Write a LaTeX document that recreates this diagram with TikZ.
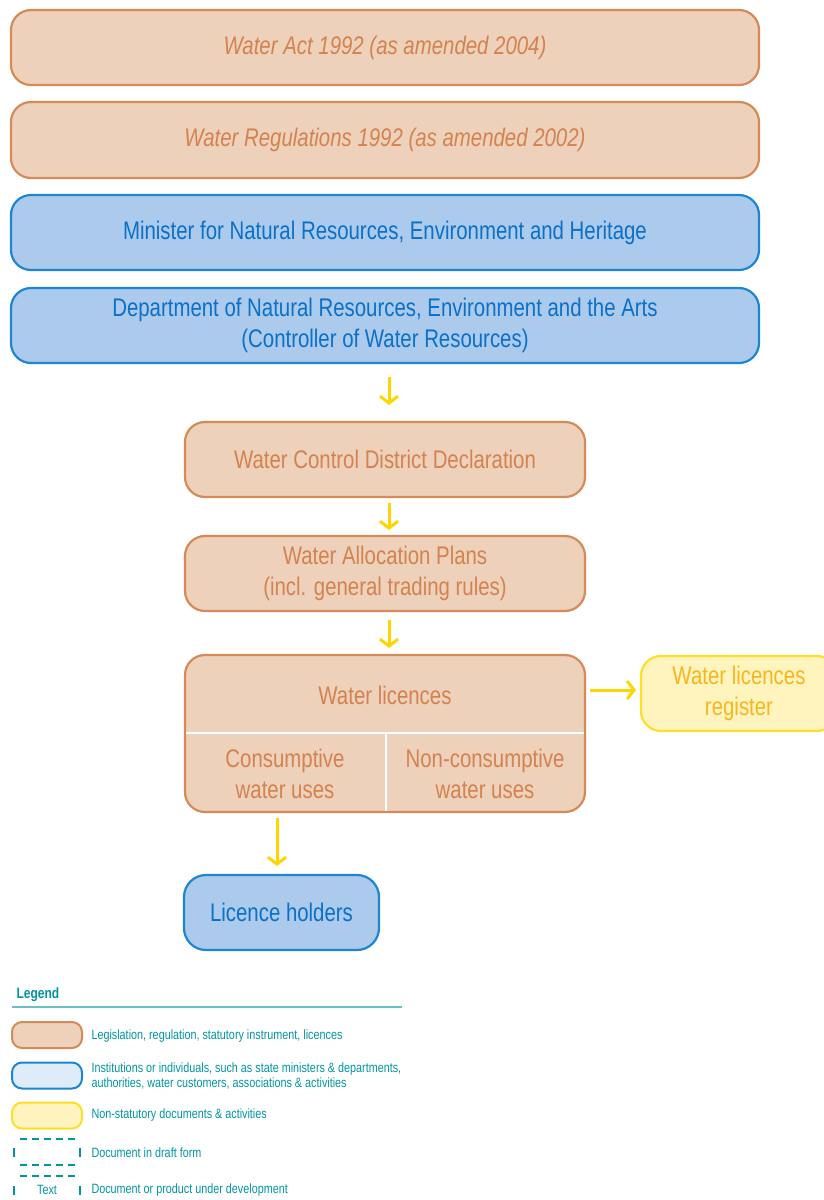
\documentclass[tikz,border=0pt]{standalone}
\usepackage{fontspec}
\setmainfont{Liberation Sans}[FakeStretch=0.8]
\usepackage{tikz}
\usetikzlibrary{positioning, arrows.meta}

\definecolor{lawfill}{RGB}{237,209,187}
\definecolor{lawline}{RGB}{214,138,88}
\definecolor{lawtext}{RGB}{212,130,78}
\definecolor{orgfill}{RGB}{172,202,236}
\definecolor{orgline}{RGB}{28,134,212}
\definecolor{orgtext}{RGB}{10,112,200}
\definecolor{notefill}{RGB}{255,244,190}
\definecolor{noteline}{RGB}{255,222,40}
\definecolor{notetext}{RGB}{248,182,30}
\definecolor{flowcol}{RGB}{255,214,0}
\definecolor{keytext}{RGB}{0,150,160}
\definecolor{keyline}{RGB}{110,190,200}
\definecolor{keyblue}{RGB}{222,236,250}

\tikzset{
  law/.style={draw=lawline, fill=lawfill, text=lawtext, line width=2.2pt,
    rounded corners=20pt, align=center, font=\fontsize{25.5}{31}\selectfont},
  org/.style={law, draw=orgline, fill=orgfill, text=orgtext},
  note/.style={law, draw=noteline, fill=notefill, text=notetext},
  flow/.style={draw=flowcol, line width=3pt, -{Straight Barb[length=7pt,width=18pt,line width=3pt]}},
  keybox/.style={draw=lawline, fill=lawfill, line width=2pt, rounded corners=10pt,
    minimum width=70pt, minimum height=26pt},
  keytxt/.style={text=keytext, anchor=west, align=left, font=\fontsize{13.5}{15}\selectfont},
}

\begin{document}
\begin{tikzpicture}[x=1pt, y=-1pt]
    \useasboundingbox (0,0) rectangle (824,1200);

    \node [law, minimum width=748pt, minimum height=75pt] (act) at (385, 47.5) {\itshape Water Act 1992 (as amended 2004)};
    \node [law, minimum width=748pt, minimum height=76pt] (regs) at (385, 140) {\itshape Water Regulations 1992 (as amended 2002)};
    \node [org, minimum width=748pt, minimum height=75pt] (minister) at (385, 232.5) {Minister for Natural Resources, Environment and Heritage};
    \node [org, minimum width=748pt, minimum height=75pt] (dept) at (385, 325.5) {Department of Natural Resources, Environment and the Arts\\(Controller of Water Resources)};

    \node [law, minimum width=400pt, minimum height=75pt] (district) at (385, 459.5) {Water Control District Declaration};
    \node [law, minimum width=400pt, minimum height=75pt] (plans) at (385, 573.5) {Water Allocation Plans\\(incl. general trading rules)};

    % licences box with its two cells
    \node [law, minimum width=400pt, minimum height=157pt] (licences) at (385, 733.5) {};
    \node [text=lawtext, font=\fontsize{25.5}{31}\selectfont] (lictitle) at (385, 695) {Water licences};
    \node [text=lawtext, align=center, font=\fontsize{25.5}{31}\selectfont] (consumptive) at (285, 774) {Consumptive\\water uses};
    \node [text=lawtext, align=center, font=\fontsize{25.5}{31}\selectfont] (nonconsumptive) at (485, 774) {Non-consumptive\\water uses};
    \draw [white, line width=1.5pt] (186, 733) -- (584, 733);
    \draw [white, line width=1.5pt] (386, 733) -- (386, 811);

    \node [note, minimum width=196pt, minimum height=75pt] (register) at (739, 693.5) {Water licences\\register};
    \node [org, minimum width=195pt, minimum height=75pt, rounded corners=22pt] (holders) at (281.5, 912.5) {Licence holders};

    \coordinate (a1) at (389, 377);  \coordinate (a2) at (389, 405);
    \coordinate (b1) at (389, 503);  \coordinate (b2) at (389, 530);
    \coordinate (c1) at (389, 620);  \coordinate (c2) at (389, 648);
    \coordinate (d1) at (590, 690);  \coordinate (d2) at (636, 690);
    \coordinate (e1) at (277, 818);  \coordinate (e2) at (277, 866);
    \draw [flow] (a1) -- (a2);
    \draw [flow] (b1) -- (b2);
    \draw [flow] (c1) -- (c2);
    \draw [flow] (d1) -- (d2);
    \draw [flow] (e1) -- (e2);

    % legend
    \node [text=keytext, anchor=west, font=\fontsize{15}{17}\selectfont\bfseries] (legend) at (13, 995) {Legend};
    \draw [keyline, line width=1.5pt] (12, 1007) -- (402, 1007);

    \node [keybox] (k1) at (47, 1035) {};
    \node [keybox, draw=orgline, fill=keyblue] (k2) at (47, 1075.5) {};
    \node [keybox, draw=noteline, fill=notefill] (k3) at (47, 1115.5) {};
    \node [keytxt] (t1) at (88, 1036) {Legislation, regulation, statutory instrument, licences};
    \node [keytxt] (t2) at (88, 1076) {Institutions or individuals, such as state ministers \& departments,\\authorities, water customers, associations \& activities};
    \node [keytxt] (t3) at (88, 1115) {Non-statutory documents \& activities};

    \draw [keytext, line width=1.5pt, dash pattern=on 7pt off 5pt] (20, 1139) -- (78, 1139);
    \draw [keytext, line width=1.5pt, dash pattern=on 7pt off 5pt] (20, 1165) -- (78, 1165);
    \draw [keytext, line width=1.5pt] (14, 1148) -- (14, 1157);
    \draw [keytext, line width=1.5pt] (80, 1148) -- (80, 1157);
    \node [keytxt] (t4) at (88, 1153) {Document in draft form};

    \draw [keytext, line width=1.5pt, dash pattern=on 7pt off 5pt] (20, 1176) -- (78, 1176);
    \draw [keytext, line width=1.5pt] (14, 1186) -- (14, 1195);
    \draw [keytext, line width=1.5pt] (80, 1186) -- (80, 1195);
    \node [text=keytext, font=\fontsize{13.5}{15}\selectfont] (k5) at (47, 1190) {Text};
    \node [keytxt] (t5) at (88, 1190) {Document or product under development};
\end{tikzpicture}
\end{document}
